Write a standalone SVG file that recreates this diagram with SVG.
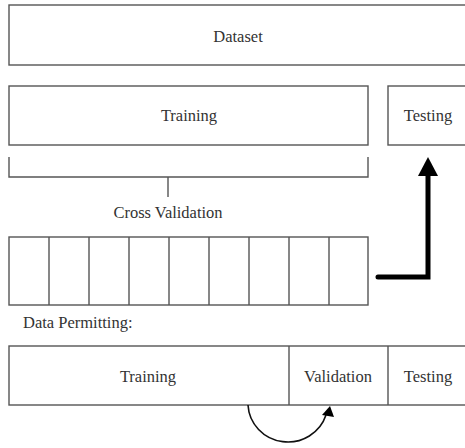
<svg xmlns="http://www.w3.org/2000/svg" width="465" height="448" viewBox="0 0 465 448">
<defs>
<style>
.box{fill:#fff;stroke:#555;stroke-width:1.4}
.ln{fill:none;stroke:#555;stroke-width:1.4}
.t{fill:#333;text-anchor:middle}
</style>
</defs>
<rect width="465" height="448" fill="#fff"/>
<g font-family="Liberation Serif" font-size="16.5">
<g id="dataset">
<rect class="box" x="9" y="5" width="470" height="60"/>
<text class="t" x="238" y="42">Dataset</text>
</g>
<g id="training">
<rect class="box" x="9" y="86" width="359" height="59"/>
<text class="t" x="189" y="121">Training</text>
</g>
<g id="testing">
<rect class="box" x="388" y="86" width="90" height="59"/>
<text class="t" x="428" y="121">Testing</text>
</g>
<g id="cross-validation">
<path class="ln" d="M9,157 V177 H368 V157 M168,177 V197"/>
<text class="t" x="168" y="218">Cross Validation</text>
</g>
<g id="folds">
<rect class="box" x="9" y="237" width="359" height="68"/>
<path class="ln" d="M49,237V305M89,237V305M129,237V305M169,237V305M209,237V305M249,237V305M289,237V305M329,237V305"/>
</g>
<g id="data-permitting">
<text class="t" x="23" y="328" style="text-anchor:start">Data Permitting:</text>
</g>
<g id="split">
<rect class="box" x="9" y="346" width="470" height="59"/>
<path class="ln" d="M289,346V405M388,346V405"/>
<text class="t" x="148" y="382">Training</text>
<text class="t" x="338" y="382">Validation</text>
<text class="t" x="428" y="382">Testing</text>
</g>
</g>
<g id="connectors">
<path d="M378,277 H428 V176" fill="none" stroke="#000" stroke-width="5" stroke-linecap="round" stroke-linejoin="miter"/>
<path d="M418,176 L438,176 L428,157 Z" fill="#000"/>
<path d="M248,405 A40,39 0 0 0 326,415" fill="none" stroke="#111" stroke-width="1.6"/>
<path d="M322,415 L334,417 L330,406 Z" fill="#000"/>
</g>
</svg>
